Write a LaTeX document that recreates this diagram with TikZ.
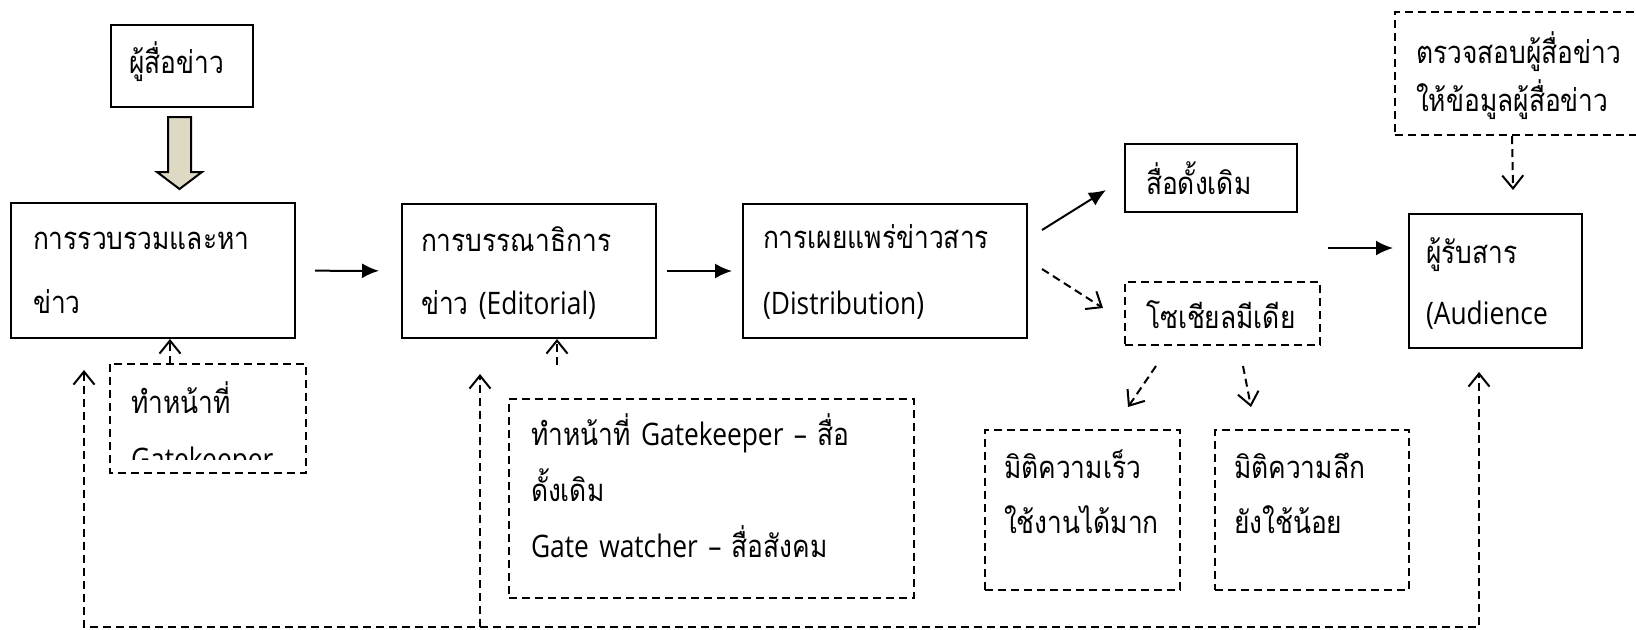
\documentclass[tikz,border=0pt]{standalone}
\usepackage{fontspec}
\setmainfont[FakeStretch=0.85]{Open Sans}
\newfontfamily\thaifont[Script=Thai,FakeStretch=0.85]{Loma}
\newcommand{\tha}[1]{{\thaifont #1}}
\usetikzlibrary{arrows.meta}
\definecolor{arrowfill}{HTML}{DDD9C3}

\tikzset{
  box/.style={draw, line width=1pt, anchor=north west, inner ysep=0pt, align=left,
    font=\fontsize{15.5}{32}\selectfont},
  dbox/.style={box, dash pattern=on 4pt off 2.5pt},
  boxsize/.style n args={4}{inner xsep=#1, text width=#2, text height=#3, text depth=#4},
  flow/.style={line width=1pt, -{Latex[length=8.5pt,width=7.5pt]}},
  hint/.style={line width=1pt, dash pattern=on 4pt off 2.5pt,
    -{Straight Barb[length=6.5pt,width=10.5pt]}},
}

\begin{document}
\begin{tikzpicture}[x=0.5pt,y=-0.5pt]
  %uncomment to see the pixel frame it was copied from:
  %\draw[dotted,step=100,black,very thin] (0,0) grid (1636,629);
  \useasboundingbox (0,0) rectangle (1636,629);

  % main chain
  \node[box, boxsize={9pt}{53pt}{24pt}{17pt}] (reporter) at (110,24) {\tha{ผู้สื่อข่าว}};
  \node[box, boxsize={11pt}{120pt}{23pt}{44.5pt}] (gather) at (10,202)
    {\tha{การรวบรวมและหา}\\\tha{ข่าว}};
  \node[box, boxsize={9.5pt}{108pt}{23.5pt}{43.5pt}, font=\fontsize{15.5}{31.5}\selectfont]
    (edit) at (401,203) {\tha{การบรรณาธิการ}\\\tha{ข่าว} (Editorial)};
  \node[box, boxsize={10pt}{122pt}{22pt}{45pt}, font=\fontsize{15.5}{33}\selectfont]
    (distrib) at (742,203) {\tha{การเผยแพร่ข่าวสาร}\\(Distribution)};
  \node[box, boxsize={10.5pt}{65pt}{25pt}{9pt}] (trad) at (1124,143) {\tha{สื่อดั้งเดิม}};
  \node[dbox, boxsize={10.5pt}{76.5pt}{23pt}{8.5pt}] (social) at (1124,281) {\tha{โซเชียลมีเดีย}};
  \node[box, boxsize={8.5pt}{69.5pt}{24.5pt}{42.5pt}, font=\fontsize{15.5}{30.5}\selectfont]
    (audience) at (1408,213) {\tha{ผู้รับสาร}\\(Audience};

  % side notes
  \node[dbox, boxsize={9.5pt}{78.5pt}{24pt}{56pt}, font=\fontsize{15.5}{27.5}\selectfont]
    (speed) at (984,429) {\tha{มิติความเร็ว}\\\tha{ใช้งานได้มาก}};
  \node[dbox, boxsize={9.5pt}{78pt}{24pt}{56pt}, font=\fontsize{15.5}{27.5}\selectfont]
    (depth) at (1214,429) {\tha{มิติความลึก}\\\tha{ยังใช้น้อย}};
  \node[dbox, boxsize={10.5pt}{112pt}{25.5pt}{36pt}, font=\fontsize{15.5}{24}\selectfont]
    (check) at (1394,11) {\tha{ตรวจสอบผู้สื่อข่าว}\\\tha{ให้ข้อมูลผู้สื่อข่าว}};
  \node[dbox, boxsize={11pt}{180.5pt}{23pt}{76.5pt}, font=\fontsize{15.5}{28}\selectfont]
    (gkB) at (508,398)
    {\tha{ทำหน้าที่} Gatekeeper -- \tha{สื่อ}\\\tha{ดั้งเดิม}\\Gate watcher -- \tha{สื่อสังคม}};
  % text runs out of this box, so it is cut at the inner margin
  \begin{scope}
    \clip (110,364) rectangle (304,459);
    \node[box, draw=none, boxsize={10pt}{77pt}{24pt}{29.5pt}, font=\fontsize{15.5}{28.5}\selectfont]
      (gkA) at (110,364) {\tha{ทำหน้าที่}\\Gatekeeper};
  \end{scope}
  \draw[line width=1pt, dash pattern=on 4pt off 2.5pt] (gkA.north west) rectangle (gkA.south east);

  % block arrow reporter -> gather
  \filldraw[fill=arrowfill, line width=1pt] (168,117) -- (191,117) -- (191,172) -- (202,172)
    -- (179.5,189) -- (157,172) -- (168,172) -- cycle;

  % solid flow
  \draw[flow, shorten <=9.5pt, shorten >=11pt] (gather) -- (edit);
  \draw[flow, shorten <=5pt, shorten >=5pt] (edit) -- (distrib);
  \draw[flow] ([shift={(14,-41)}]distrib.east) -- ([shift={(-18,12)}]trad.west);
  \draw[flow] ([shift={(-80,-33)}]audience.west) -- ([shift={(-15,-33)}]audience.west);

  % dashed hints
  \draw[hint] ([shift={(14,-2)}]distrib.east) -- ([shift={(-21,-5.5)}]social.west);
  \draw[hint] ([shift={(-66.5,20)}]social.south) -- ([shift={(45.5,-22)}]speed.north);
  \draw[hint] ([shift={(20.5,20)}]social.south) -- ([shift={(-61,-22)}]depth.north);
  \draw[hint] ([xshift=59pt]check.south west) -- ([shift={(17.5,-23)}]audience.north);
  \draw[hint] ([xshift=30pt]gkA.north west) -- ([xshift=80pt]gather.south west);
  \draw[hint] ([shift={(49,-33)}]gkB.north west) -- ([xshift=78pt]edit.south west);

  % feedback line along the bottom
  \coordinate (fbA) at ([shift={(74,31)}]gather.south west);
  \coordinate (fbB) at ([shift={(79,35)}]edit.south west);
  \coordinate (fbC) at ([shift={(71,23)}]audience.south west);
  \coordinate (fbbase) at (0,627);
  \draw[hint, {Straight Barb[length=6.5pt,width=10.5pt]}-{Straight Barb[length=6.5pt,width=10.5pt]}]
    (fbA) -- (fbA |- fbbase) -- (fbC |- fbbase) -- (fbC);
  \draw[hint] (fbB |- fbbase) -- (fbB);
\end{tikzpicture}
\end{document}
